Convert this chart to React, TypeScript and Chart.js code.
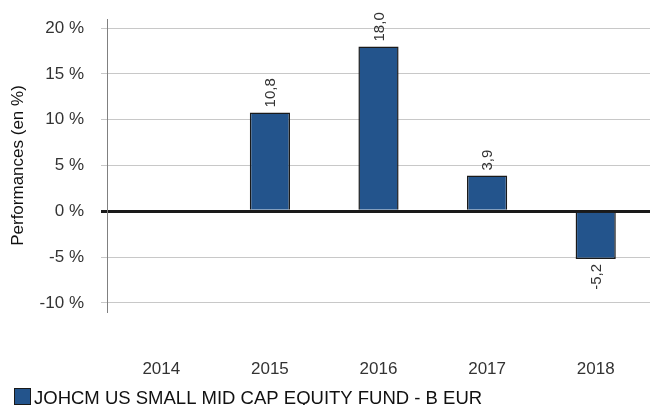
import React, { useEffect, useRef } from "react";
import { Chart, registerables } from "chart.js";
Chart.register(...registerables);

const categories = ["2014", "2015", "2016", "2017", "2018"];
const fundValues: (number | null)[] = [null, 10.8, 18.0, 3.9, -5.2];
const yTicks = [-10, -5, 0, 5, 10, 15, 20];
const seriesName = "JOHCM US SMALL MID CAP EQUITY FUND - B EUR";
const FONT = "'Liberation Sans', Arial, sans-serif";

const labelPlugin = {
  id: "barLabels",
  afterDatasetsDraw(chart: any) {
    const ctx = chart.ctx;
    const meta = chart.getDatasetMeta(0);
    ctx.save();
    ctx.font = `15px ${FONT}`;
    ctx.fillStyle = "#333333";
    meta.data.forEach((bar: any, i: number) => {
      const v = fundValues[i];
      if (v === null || v === undefined) return;
      const txt = v.toFixed(1).replace(".", ",");
      ctx.save();
      ctx.translate(bar.x + 1, bar.y);
      ctx.rotate(-Math.PI / 2);
      ctx.textBaseline = "middle";
      if (v >= 0) {
        ctx.textAlign = "left";
        ctx.fillText(txt, 5, 0);
      } else {
        ctx.textAlign = "right";
        ctx.fillText(txt, -5, 0);
      }
      ctx.restore();
    });
    ctx.restore();
  },
};

const legendPlugin = {
  id: "customLegend",
  afterDraw(chart: any) {
    const ctx = chart.ctx;
    const ds = chart.data.datasets[0];
    ctx.save();
    ctx.fillStyle = ds.backgroundColor;
    ctx.fillRect(14, 388, 17, 17);
    ctx.strokeStyle = "#1a1a1a";
    ctx.lineWidth = 1;
    ctx.strokeRect(14.5, 388.5, 16, 16);
    ctx.fillStyle = "#111111";
    ctx.font = `18.5px ${FONT}`;
    ctx.textBaseline = "alphabetic";
    ctx.textAlign = "left";
    ctx.fillText(ds.label, 34, 404);
    ctx.restore();
  },
};

export default function App() {
  const ref = useRef<HTMLCanvasElement>(null);
  useEffect(() => {
    if (!ref.current) return;
    const chart = new Chart(ref.current, {
      type: "bar",
      data: {
        labels: categories,
        datasets: [
          {
            label: seriesName,
            data: fundValues,
            backgroundColor: "#23548c",
            borderColor: "#1a1a1a",
            borderWidth: 1.5,
            barPercentage: 0.37,
            categoryPercentage: 1,
          },
        ],
      },
      options: {
        animation: false,
        responsive: false,
        layout: { padding: { left: 0, right: 0, top: 19, bottom: 0 } },
        plugins: {
          legend: { display: false },
          tooltip: { enabled: false },
        },
        scales: {
          x: {
            grid: { display: false, drawTicks: false },
            border: { display: false },
            afterFit: (scale: any) => {
              scale.height = 93;
              scale.paddingLeft = 0;
              scale.paddingRight = 0;
            },
            ticks: {
              color: "#333333",
              padding: 47,
              font: { size: 17, family: FONT },
            },
          },
          y: {
            min: -11,
            max: 21,
            afterBuildTicks: (scale: any) => {
              scale.ticks = yTicks.map((v) => ({ value: v }));
            },
            afterFit: (scale: any) => {
              scale.width = 107;
              scale.paddingTop = 0;
              scale.paddingBottom = 0;
            },
            border: { display: true, color: "#808080", width: 1 },
            grid: {
              color: (c: any) => (c.tick && c.tick.value === 0 ? "#1a1a1a" : "#c8c8c8"),
              lineWidth: (c: any) => (c.tick && c.tick.value === 0 ? 3 : 1),
              tickLength: 6,
            },
            ticks: {
              color: "#333333",
              padding: 17,
              font: { size: 17, family: FONT },
              callback: (v: any) => `${v} %`,
            },
            title: {
              display: true,
              text: "Performances (en %)",
              color: "#111111",
              font: { size: 17, family: FONT },
              padding: { top: 8, bottom: 0 },
            },
          },
        },
      },
      plugins: [labelPlugin, legendPlugin],
    });
    return () => chart.destroy();
  }, []);
  return (
    <div style={{ position: "absolute", left: 0, top: 0, width: 650, height: 405, background: "#fff" }}>
      <canvas ref={ref} width={650} height={405} />
    </div>
  );
}
